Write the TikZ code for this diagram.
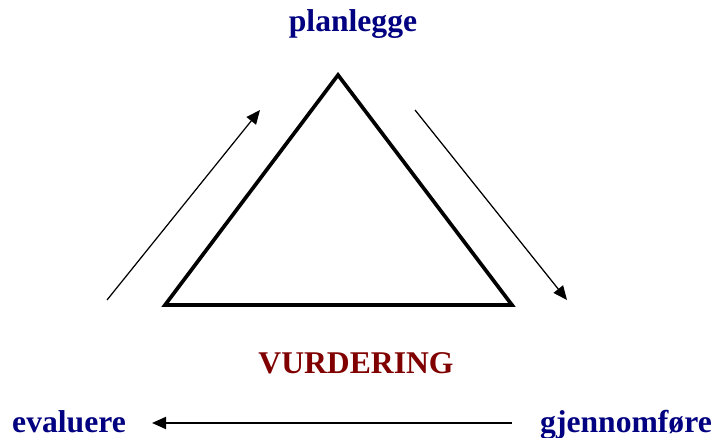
\documentclass[tikz,border=0pt]{standalone}
\usepackage{fontspec}
\usetikzlibrary{arrows.meta}
\setmainfont{Liberation Serif}
\definecolor{navyblue}{RGB}{0,0,128}
\definecolor{darkred}{RGB}{128,0,0}
\tikzset{
  phase/.style={navyblue, font=\bfseries\fontsize{18}{20}\selectfont, anchor=base, inner sep=0},
  centre/.style={darkred, font=\bfseries\fontsize{18}{20}\selectfont, anchor=base, inner sep=0},
  cycarrow/.style={-{Triangle[length=2.8mm, width=2.4mm]}},
}
\begin{document}
\begin{tikzpicture}[x=0.02cm, y=-0.02cm]
\useasboundingbox (0,0) rectangle (715,438);
%
\draw[line width=2.1pt, line join=miter] (338,75) -- (165,305) -- (512,305) -- cycle;
%
\node [phase] (plan) at (353,32){planlegge};
\node [centre] (vurd) at (356,373){VURDERING};
\node [phase] (eval) at (69,432){evaluere};
\node [phase] (gjen) at (626,432){gjennomføre};
%
\coordinate (A1) at (107,300);
\coordinate (A2) at (260,110);
\coordinate (B1) at (415,110);
\coordinate (B2) at (567,300);
\coordinate (C1) at (512,423);
\coordinate (C2) at (152,423);
\draw[cycarrow, line width=0.7pt] (A1) -- (A2);
\draw[cycarrow, line width=0.7pt] (B1) -- (B2);
\draw[cycarrow, line width=1.1pt] (C1) -- (C2);
\end{tikzpicture}
\end{document}
